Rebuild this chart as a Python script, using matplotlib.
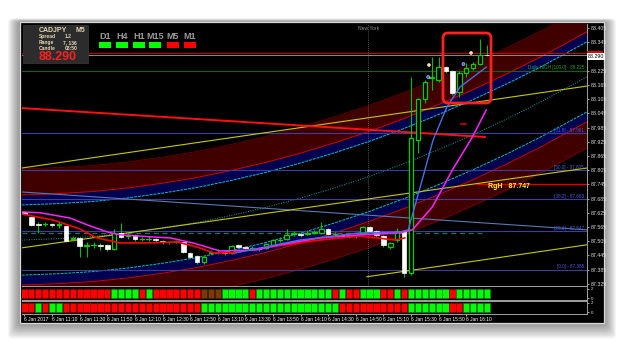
import numpy as np
import matplotlib
matplotlib.use("Agg")
import matplotlib.pyplot as plt
import matplotlib.transforms as mtransforms
from matplotlib.patches import Rectangle, FancyBboxPatch

plt.rcParams['font.family'] = ['Liberation Sans', 'DejaVu Sans']

W, H = 625, 346

# ---------------- data ----------------
# CADJPY M5, 6 Jan 2017, bar 0 = 10:50
opens = [87.629, 87.607, 87.578, 87.578, 87.578, 87.574, 87.569, 87.515, 87.519, 87.485,
         87.490, 87.490, 87.490, 87.473, 87.540, 87.527, 87.532, 87.515, 87.515, 87.515,
         87.506, 87.502, 87.502, 87.502, 87.456, 87.443, 87.418, 87.456, 87.460, 87.460,
         87.456, 87.490, 87.481, 87.477, 87.477, 87.477, 87.490, 87.510, 87.515, 87.536,
         87.536, 87.536, 87.540, 87.540, 87.557, 87.536, 87.532, 87.527, 87.527, 87.540,
         87.565, 87.548, 87.527, 87.481, 87.510, 87.548, 87.371, 87.932, 88.105, 88.194,
         88.186, 88.240, 88.224, 88.135, 88.215, 88.236, 88.253, 88.291]
highs = [87.633, 87.612, 87.586, 87.586, 87.582, 87.586, 87.574, 87.527, 87.523, 87.502,
         87.502, 87.498, 87.494, 87.557, 87.582, 87.540, 87.536, 87.523, 87.527, 87.519,
         87.510, 87.506, 87.510, 87.506, 87.460, 87.447, 87.443, 87.468, 87.473, 87.464,
         87.490, 87.494, 87.485, 87.485, 87.481, 87.498, 87.515, 87.523, 87.557, 87.548,
         87.544, 87.548, 87.553, 87.586, 87.561, 87.544, 87.536, 87.536, 87.532, 87.569,
         87.569, 87.553, 87.532, 87.502, 87.561, 87.553, 88.198, 88.109, 88.186, 88.283,
         88.283, 88.245, 88.228, 88.224, 88.257, 88.262, 88.359, 88.333]
lows = [87.616, 87.569, 87.540, 87.569, 87.565, 87.561, 87.502, 87.506, 87.439, 87.439,
        87.477, 87.468, 87.464, 87.468, 87.519, 87.515, 87.506, 87.506, 87.506, 87.502,
        87.494, 87.494, 87.498, 87.456, 87.434, 87.409, 87.409, 87.451, 87.451, 87.447,
        87.451, 87.477, 87.473, 87.468, 87.464, 87.473, 87.485, 87.502, 87.510, 87.527,
        87.523, 87.532, 87.536, 87.536, 87.532, 87.527, 87.519, 87.519, 87.519, 87.536,
        87.544, 87.523, 87.481, 87.473, 87.502, 87.354, 87.362, 87.878, 88.088, 88.143,
        88.177, 88.215, 88.122, 88.114, 88.198, 88.228, 88.249, 88.287]
closes = [87.620, 87.574, 87.574, 87.578, 87.574, 87.578, 87.506, 87.519, 87.485, 87.490,
          87.490, 87.485, 87.473, 87.540, 87.523, 87.532, 87.515, 87.515, 87.515, 87.510,
          87.502, 87.502, 87.506, 87.460, 87.439, 87.418, 87.439, 87.460, 87.460, 87.456,
          87.485, 87.481, 87.477, 87.477, 87.473, 87.494, 87.510, 87.510, 87.532, 87.540,
          87.532, 87.540, 87.544, 87.557, 87.536, 87.536, 87.527, 87.527, 87.527, 87.565,
          87.548, 87.532, 87.490, 87.498, 87.548, 87.371, 87.941, 88.105, 88.177, 88.198,
          88.240, 88.224, 88.131, 88.215, 88.236, 88.253, 88.291, 88.290]

time_ticks = [0, 4, 8, 12, 16, 20, 24, 28, 32, 36, 40, 44, 48, 52, 56, 60, 64]
time_labels = ["6 Jan 2017", "6 Jan 11:10", "6 Jan 11:30", "6 Jan 11:50", "6 Jan 12:10",
               "6 Jan 12:30", "6 Jan 12:50", "6 Jan 13:10", "6 Jan 13:30", "6 Jan 13:50",
               "6 Jan 14:10", "6 Jan 14:30", "6 Jan 14:50", "6 Jan 15:10", "6 Jan 15:30",
               "6 Jan 15:50", "6 Jan 16:10"]
price_ticks = [87.325, 87.385, 87.445, 87.505, 87.565, 87.625, 87.685, 87.745, 87.805,
               87.865, 87.925, 87.985, 88.045, 88.105, 88.165, 88.225, 88.345, 88.405]

# regression channel centre, read every 5 bars
chan_bars = [-0.4, 5, 10, 15, 20, 25, 30, 35, 40, 45, 50, 55, 60, 65, 70, 75, 81.5]
chan_mid = [87.510, 87.516, 87.525, 87.540, 87.560, 87.584, 87.614, 87.648, 87.687,
            87.731, 87.779, 87.833, 87.892, 87.955, 88.023, 88.096, 88.199]
chan_inner = 0.148
chan_red = 0.19
chan_outer = 0.30

# moving averages
mag_bars = [-0.4, 2.3, 6.6, 9.1, 12, 13.8, 18.6, 21.1, 24.4, 28.3, 33.5, 37, 42.8, 48.6,
            54.4, 56.2, 59.1, 62, 64.9, 66.9]
mag_vals = [87.629, 87.625, 87.603, 87.574, 87.544, 87.532, 87.523, 87.519, 87.498, 87.464,
            87.468, 87.490, 87.519, 87.532, 87.540, 87.553, 87.650, 87.806, 87.945, 88.059]
red_bars = [-0.4, 4.1, 8, 10.5, 13.8, 18.6, 22.1, 25.4, 27.3, 30.1, 35.6, 42.8, 48.6, 53.7, 55.1]
red_vals = [87.620, 87.595, 87.557, 87.519, 87.498, 87.498, 87.502, 87.477, 87.456, 87.456,
            87.481, 87.510, 87.527, 87.510, 87.519]
blue_bars = [30.6, 35.6, 39.9, 48.6, 54.4, 55.6, 57.3, 59.2, 61.2, 63.1, 66.9]
blue_vals = [87.456, 87.485, 87.510, 87.540, 87.544, 87.553, 87.730, 87.932, 88.072, 88.156, 88.240]

# straight lines
trend_red_x, trend_red_y = [-0.4, 66.7], [88.067, 87.945]
yellow1_x, yellow1_y = [-0.4, 81.5], [87.814, 88.160]
yellow2_x, yellow2_y = [-0.4, 81.5], [87.477, 87.814]
yellow3_x, yellow3_y = [49.6, 81.5], [87.355, 87.490]
steel_x, steel_y = [-0.4, 81.5], [87.713, 87.553]

fib_levels = [87.961, 87.805, 87.683, 87.547, 87.385]
fib_names = ["[61.8] - 87.961", "[50.0] - 87.805", "[38.2] - 87.683",
             "[23.6] - 87.547", "[0.0] - 87.385"]
daily_high = 88.225
rgh_level = 87.747
bid = 88.290
ask = 88.300
pivot = 87.540

sig_bars = [58.6, 58.5, 63.6, 64.7]
sig_vals = [88.249, 88.198, 88.253, 88.300]
sig_cols = ['#ffe680', '#4060ff', '#4060ff', '#ffe680']

# signal histograms: 1 up, -1 down, 0 flat
row1 = [-1, -1, -1, -1, -1, -1, -1, -1, -1, -1, -1, -1, -1, 1, 1, 1, 1, -1, 1, -1,
        -1, -1, -1, -1, -1, -1, 0, 0, 0, 1, 1, 1, 1, -1, 1, 1, 1, 1, 1, 1,
        1, 1, 1, 1, 1, -1, 1, -1, -1, 1, 1, 1, -1, -1, 1, -1, 1, 1, 1, 1,
        1, 1, -1, 1, 1, 1, 1, 1]
row2 = [-1, -1, 1, -1, 1, 1, -1, -1, -1, -1, -1, -1, -1, -1, -1, -1, -1, -1, -1, -1,
        -1, -1, -1, -1, -1, -1, 1, 1, 1, 1, 1, 1, 1, 1, 1, 1, 1, 1, 1, 1,
        1, 1, 1, 1, 1, 1, -1, -1, -1, -1, -1, -1, -1, -1, -1, -1, 1, 1, 1, 1,
        1, 1, -1, -1, 1, 1, 1, 1]

tf_names = ['D1', 'H4', 'H1', 'M15', 'M5', 'M1']
tf_state = [1, 1, 1, 1, -1, -1]

# ---------------- figure ----------------
fig = plt.figure(figsize=(W / 100, H / 100), dpi=100)
fig.patch.set_facecolor('white')


def fr(x0, y0, x1, y1):
    return [x0 / W, 1 - y1 / H, (x1 - x0) / W, (y1 - y0) / H]


# drop shadow + black frame (behind the axes)
for k in range(12, 0, -1):
    fig.add_artist(FancyBboxPatch((20 / W - k / W, 1 - (323 + k * 1.3) / H),
                                  (584 + 2 * k) / W, (301 + k * 1.6) / H,
                                  boxstyle='round,pad=0,rounding_size=0.01',
                                  transform=fig.transFigure, facecolor='black',
                                  edgecolor='none', alpha=0.04, zorder=-3))
fig.add_artist(Rectangle((20 / W, 1 - 323 / H), 584 / W, 301 / H, transform=fig.transFigure,
                         facecolor='black', edgecolor='#d8d8d8', lw=0.9, zorder=-2))

ax = fig.add_axes(fr(22, 24, 587, 286))
p1 = fig.add_axes(fr(22, 287, 587, 300))
p2 = fig.add_axes(fr(22, 301, 587, 314))

xmin, xmax = -0.36, 81.5
for a in (ax, p1, p2):
    a.set_facecolor('black')
    a.set_xlim(xmin, xmax)
    for s in a.spines.values():
        s.set_color('#a0a0a0')
        s.set_linewidth(0.7)
    a.spines['left'].set_visible(False)
    a.yaxis.tick_right()
    a.tick_params(axis='y', colors='#e0e0e0', labelsize=3.8, length=1.5, width=0.5, pad=1)
    a.tick_params(axis='x', length=0)
    a.set_xticklabels([])

ax.set_ylim(87.316, 88.422)
ax.set_yticks(price_ticks)
ax.set_xticks([])
ax.spines['top'].set_visible(False)

# channel
mid = np.array(chan_mid)
ax.fill_between(chan_bars, mid + chan_red, mid + chan_outer, color='#400000', lw=0, zorder=1)
ax.fill_between(chan_bars, mid + chan_inner, mid + chan_red, color='#00004e', lw=0, zorder=1)
ax.fill_between(chan_bars, mid - chan_red, mid - chan_inner, color='#00004e', lw=0, zorder=1)
ax.fill_between(chan_bars, mid - chan_outer, mid - chan_red, color='#400000', lw=0, zorder=1)
for off in (chan_red, -chan_red):
    ax.plot(chan_bars, mid + off, color='#d00000', lw=0.7, zorder=2)
for off in (chan_outer, -chan_outer):
    ax.plot(chan_bars, mid + off, color='#780000', lw=0.5, zorder=2)
for off in (chan_inner, -chan_inner):
    ax.plot(chan_bars, mid + off, color='#00c0d0', lw=0.7, ls=(0, (3, 1)), zorder=2)
ax.plot(chan_bars, mid, color='#00a8b8', lw=0.7, ls=(0, (1, 1.5)), zorder=2)

# horizontal levels
for lv in fib_levels:
    ax.axhline(lv, color='#3c3ca8', lw=0.8, zorder=2)
trans = mtransforms.blended_transform_factory(ax.transAxes, ax.transData)
for lv, nm in zip(fib_levels, fib_names):
    ax.text(0.995, lv + 0.002, nm, transform=trans, ha='right', va='bottom',
            fontsize=3.3, color='#4a5ae0', zorder=8)
ax.axhline(daily_high, color='#0a6a0a', lw=0.8, zorder=2)
ax.text(0.995, daily_high + 0.002, "Daily HIGH [100.0] - 88.225", transform=trans,
        ha='right', va='bottom', fontsize=3.3, color='#2aa02a', zorder=8)
ax.axhline(ask, color='#c00000', lw=0.8, zorder=3)
ax.axhline(bid, color='#a0a0a0', lw=0.6, zorder=3)
ax.plot([-0.4, 66.7], [pivot, pivot], color='#1e7070', lw=0.9, ls=(0, (4, 3)), zorder=3)
ax.plot([65.6, 81.5], [rgh_level, rgh_level], color='#e00000', lw=1.0, zorder=3)
ax.text(67.2, rgh_level - 0.012, "RgH   87.747", fontsize=5, fontweight='bold',
        color='#ffff00', va='center', zorder=9)

# straight trend lines
ax.plot(steel_x, steel_y, color='#5a78b4', lw=0.8, zorder=3)
ax.plot(yellow1_x, yellow1_y, color='#c8c800', lw=0.8, zorder=3)
ax.plot(yellow2_x, yellow2_y, color='#c8c800', lw=0.8, zorder=3)
ax.plot(yellow3_x, yellow3_y, color='#c8c800', lw=0.8, zorder=3)
ax.plot(trend_red_x, trend_red_y, color='#ff1010', lw=1.4, zorder=3)
ax.plot([63.3, 64.0], [88.000, 88.000], color='#d00000', lw=1.2, zorder=3)

# New York session line
ax.axvline(49.8, color='#707070', lw=0.6, ls=(0, (1, 1.5)), zorder=2)
ax.text(49.8, 88.405, "New York", fontsize=3.6, color='#909090', ha='center', va='center',
        zorder=9)

# candles
for i in range(len(opens)):
    o, h, l, c = opens[i], highs[i], lows[i], closes[i]
    ax.vlines(i, l, h, color='#00c000', lw=0.8, zorder=5)
    if c > o:
        ax.bar(i, c - o, bottom=o, width=0.66, facecolor='black', edgecolor='#00d000',
               linewidth=0.9, zorder=6)
    elif c < o:
        ax.bar(i, o - c, bottom=c, width=0.66, facecolor='white', edgecolor='white',
               linewidth=0.5, zorder=6)
    else:
        ax.plot([i - 0.33, i + 0.33], [o, o], color='#00d000', lw=0.9, zorder=6)

# moving averages
ax.plot(red_bars, red_vals, color='#ff0000', lw=1.2, zorder=7)
ax.plot(mag_bars, mag_vals, color='#ff20ff', lw=1.1, zorder=7)
ax.plot(blue_bars, blue_vals, color='#4a6ee8', lw=1.0, zorder=7)
ax.scatter(sig_bars, sig_vals, s=5, c=sig_cols, edgecolors='white', linewidths=0.3, zorder=8)

# current price tags on the axis
ax.add_patch(Rectangle((1.0, ask - 0.006), 0.028, 0.012, transform=trans, facecolor='#e00000',
                       edgecolor='none', zorder=9, clip_on=False))
ax.text(1.002, bid - 0.004, "88.290", transform=trans, fontsize=3.8, color='black',
        va='center', ha='left', bbox=dict(facecolor='white', edgecolor='none', pad=0.6),
        zorder=10, clip_on=False)

# signal histograms
cmap = {1: '#00ff00', -1: '#ff0000', 0: '#7a3a00'}
emap = {1: '#008a00', -1: '#8a0000', 0: '#4a2000'}
for a, row in ((p1, row1), (p2, row2)):
    bars = range(len(row))
    a.bar(bars, [2] * len(row), width=0.9, color=[cmap[v] for v in row],
          edgecolor=[emap[v] for v in row], linewidth=0.5)
    a.set_ylim(-0.35, 2.35)
    a.set_yticks([0, 2])
    a.tick_params(axis='y', labelsize=3.2)
p1.spines['top'].set_visible(False)

p2.set_xticks(time_ticks)
p2.set_xticklabels(time_labels, ha='left')
p2.tick_params(axis='x', colors='white', labelsize=3.5, length=1.5, width=0.5, pad=1)

# info box
fig.add_artist(Rectangle((23 / W, 1 - 63 / H), 65 / W, 38 / H, transform=fig.transFigure,
                         facecolor='#2c2c2c', edgecolor='#3a3a3a', lw=0.5, zorder=20))
tc = '#e6d8b4'
fig.text(39 / W, 1 - 30 / H, "CADJPY", fontsize=5, fontweight='bold', color=tc,
         va='center', zorder=21)
fig.text(75 / W, 1 - 30 / H, "M5", fontsize=5, fontweight='bold', color=tc, va='center',
         zorder=21)
for yy, a_txt, b_txt, bx in ((36.5, "Spread", "1.2", 65), (42.5, "Range", "7, 136", 63),
                             (49, "Candle", "03:50", 65)):
    fig.text(39 / W, 1 - yy / H, a_txt, fontsize=3.6, fontweight='bold', color=tc,
             va='center', zorder=21)
    fig.text(bx / W, 1 - yy / H, b_txt, fontsize=3.6, fontweight='bold', color=tc,
             va='center', zorder=21)
fig.text(39 / W, 1 - 57.5 / H, "88.290", fontsize=9, fontweight='bold', color='#ff2020',
         va='center', zorder=21)

# timeframe trend boxes
tf_cx = [105, 122, 139, 155, 172.5, 190]
for cx, nm, st in zip(tf_cx, tf_names, tf_state):
    fig.text(cx / W, 1 - 36.5 / H, nm, fontsize=6.5, fontweight='bold', color='#9a9a9a',
             ha='center', va='center', zorder=21)
    fig.add_artist(Rectangle(((cx - 6) / W, 1 - 48 / H), 12 / W, 6 / H,
                             transform=fig.transFigure,
                             facecolor='#00ff00' if st > 0 else '#ff0000',
                             edgecolor='none', zorder=21))

# highlight box around the last candles
fig.add_artist(FancyBboxPatch((4.43, (H - 103) / 100), 0.48, 0.70,
                              boxstyle='round,pad=0,rounding_size=0.05',
                              transform=fig.dpi_scale_trans, facecolor='none',
                              edgecolor='#ff2020', lw=2, zorder=25))

fig.savefig("out.png", dpi=100, facecolor='white')
